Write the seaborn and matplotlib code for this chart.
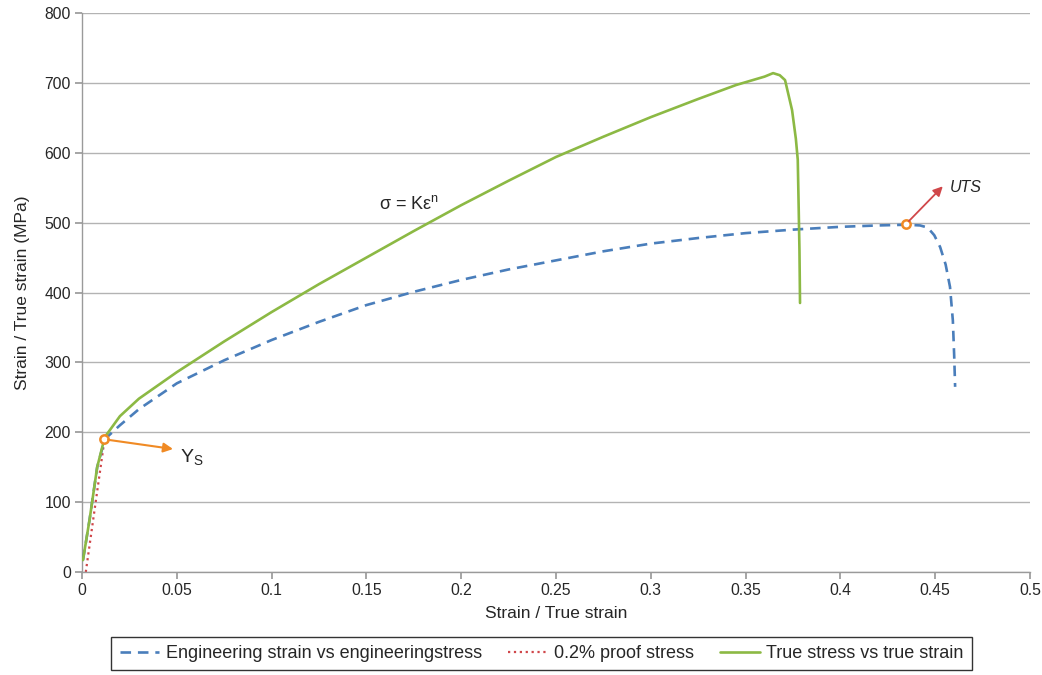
import numpy as np
import pandas as pd
import matplotlib
matplotlib.use("Agg")
import matplotlib.pyplot as plt
import seaborn as sns

# Engineering strain vs engineering stress
eng_strain = [0.0005, 0.004, 0.008, 0.012, 0.02, 0.03, 0.05, 0.075, 0.1, 0.125, 0.15, 0.175, 0.2,
              0.225, 0.25, 0.275, 0.3, 0.325, 0.35, 0.375, 0.4, 0.42, 0.435, 0.442, 0.446,
              0.4495, 0.4526, 0.4555, 0.4578, 0.4593, 0.4600, 0.4605]
eng_stress = [17, 75, 150, 190, 210, 233, 270, 303, 332, 358, 382, 401, 418,
              433, 446, 459, 470, 478, 485, 490, 494, 496, 497, 496, 493,
              482, 465, 440, 408, 360, 310, 265]

# True stress vs true strain
true_strain = [0.0005, 0.004, 0.008, 0.012, 0.02, 0.03, 0.05, 0.075, 0.1, 0.125, 0.15, 0.175,
               0.2, 0.225, 0.25, 0.275, 0.3, 0.325, 0.345, 0.36, 0.3645, 0.368, 0.3708,
               0.3745, 0.3765, 0.3775, 0.378, 0.3784, 0.3787]
true_stress = [17, 75, 150, 193, 223, 248, 286, 330, 372, 412, 450, 488,
               525, 560, 594, 623, 651, 677, 697, 709, 714, 711, 704,
               661, 620, 590, 520, 460, 385]

# 0.2% proof stress line
proof_strain = [0.002, 0.0123]
proof_stress = [0, 198]

# Annotation points
ys_point = (0.0116, 190)
uts_point = (0.4346, 498)

x_ticks = [0, 0.05, 0.1, 0.15, 0.2, 0.25, 0.3, 0.35, 0.4, 0.45, 0.5]
x_tick_labels = ["0", "0.05", "0.1", "0.15", "0.2", "0.25", "0.3", "0.35", "0.4", "0.45", "0.5"]
y_ticks = [0, 100, 200, 300, 400, 500, 600, 700, 800]

sns.set_theme(style="white")
plt.rcParams['font.family'] = ['Liberation Sans', 'DejaVu Sans']

fig = plt.figure(figsize=(10.42, 6.75), dpi=100)
ax = fig.add_axes([0.0787, 0.1526, 0.9098, 0.8281])

blue = "#4a7ebb"
green = "#8cb944"
red = "#d0474a"
orange = "#f08a24"

df_eng = pd.DataFrame({"x": eng_strain, "y": eng_stress})
df_true = pd.DataFrame({"x": true_strain, "y": true_stress})
df_proof = pd.DataFrame({"x": proof_strain, "y": proof_stress})

sns.lineplot(data=df_eng, x="x", y="y", ax=ax, color=blue, lw=1.9, sort=False,
             label="Engineering strain vs engineeringstress", zorder=3)
ax.lines[-1].set_dashes([4, 2.6])
sns.lineplot(data=df_proof, x="x", y="y", ax=ax, color=red, lw=1.6, sort=False,
             label="0.2% proof stress", zorder=2)
ax.lines[-1].set_linestyle(":")
sns.lineplot(data=df_true, x="x", y="y", ax=ax, color=green, lw=1.9, sort=False,
             label="True stress vs true strain", zorder=4)

ax.set_xlim(0, 0.5)
ax.set_ylim(0, 800)
ax.set_xticks(x_ticks)
ax.set_xticklabels(x_tick_labels)
ax.set_yticks(y_ticks)
ax.grid(axis="y", color="#b3b3b3", lw=1)
ax.grid(axis="x", visible=False)
for s in ["top", "right"]:
    ax.spines[s].set_visible(False)
for s in ["left", "bottom"]:
    ax.spines[s].set_color("#9a9a9a")
    ax.spines[s].set_linewidth(1)
ax.tick_params(axis="x", direction="out", length=5, color="#9a9a9a", labelsize=11.3, pad=3, bottom=True)
ax.tick_params(axis="y", direction="out", length=5, color="#9a9a9a", labelsize=11.3, pad=3, left=True)
ax.set_xlabel("Strain / True strain", fontsize=12.5, labelpad=6)
ax.set_ylabel("Strain / True strain (MPa)", fontsize=12.5, labelpad=10)

# markers
ax.plot(*ys_point, marker="o", ms=6, mfc="white", mec=orange, mew=1.8, zorder=6)
ax.plot(*uts_point, marker="o", ms=6, mfc="white", mec=orange, mew=1.8, zorder=6)

ax.annotate("", xy=(0.048, 176), xytext=ys_point,
            arrowprops=dict(arrowstyle="-|>", color=orange, lw=1.5, mutation_scale=14,
                            shrinkA=3, shrinkB=0), zorder=6)
ax.text(0.0515, 163, r"Y$_\mathregular{S}$", fontsize=14, ha="left", va="center")

ax.annotate("", xy=(0.454, 552), xytext=uts_point,
            arrowprops=dict(arrowstyle="-|>", color=red, lw=1.3, mutation_scale=14,
                            shrinkA=3, shrinkB=0), zorder=6)
ax.text(0.4575, 551, "UTS", fontsize=11.5, style="italic", ha="left", va="center")

ax.text(0.1725, 527, r"σ = Kε$^\mathregular{n}$", fontsize=13, ha="center", va="center")

handles, labels = ax.get_legend_handles_labels()
leg = fig.legend(handles, labels,
                 loc="center", bbox_to_anchor=(541.5 / 1042, 1 - 653.5 / 675), ncol=3,
                 fontsize=13, frameon=True, fancybox=False, edgecolor="black",
                 handlelength=2.2, columnspacing=1.45, handletextpad=0.35,
                 borderpad=0.45)
leg.get_frame().set_linewidth(1)
if ax.get_legend() is not None:
    ax.get_legend().remove()

fig.savefig("out.png", dpi=100)
